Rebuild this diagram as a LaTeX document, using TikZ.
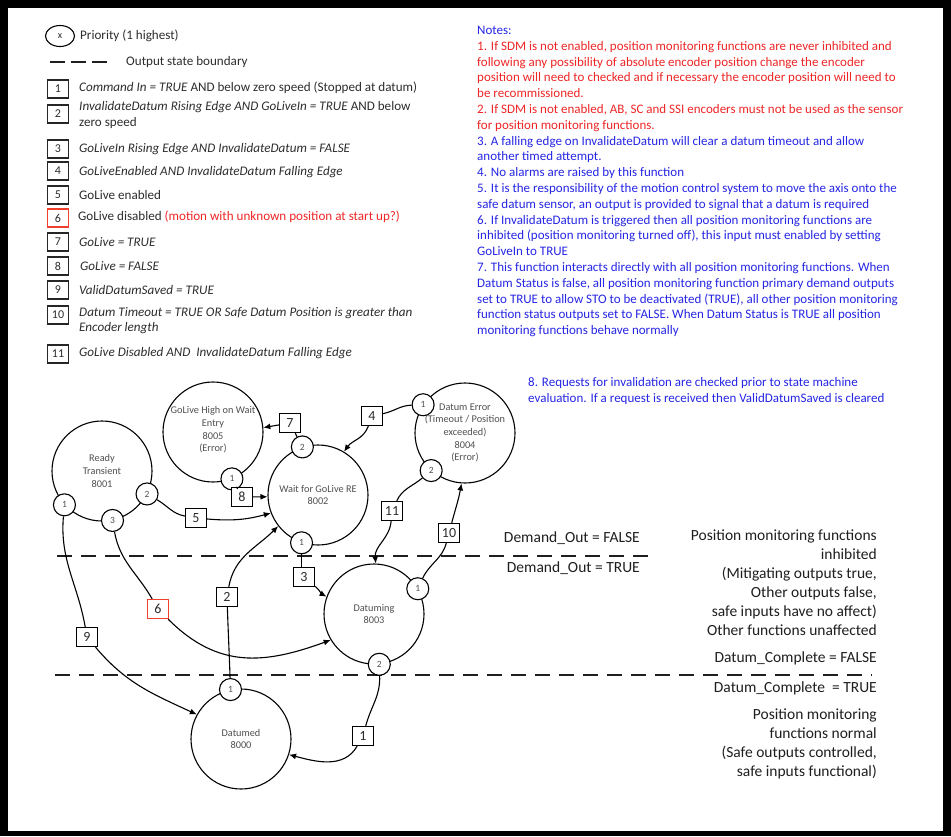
\documentclass[tikz,border=0pt]{standalone}
\usepackage{fontspec}
\setmainfont{Carlito}
\usetikzlibrary{arrows.meta,shapes.geometric}
\definecolor{notered}{RGB}{238,38,38}
\definecolor{noteblue}{RGB}{38,38,228}
\definecolor{txt}{RGB}{45,45,45}
\definecolor{stxt}{RGB}{80,80,80}
\definecolor{boxred}{RGB}{238,64,44}
\begin{document}
\begin{tikzpicture}[x=1pt,y=1pt,
  state/.style={circle,draw=black,line width=1.1pt,minimum size=100pt,inner sep=0pt},
  stext/.style={align=center,inner sep=0pt,text=stxt,font=\fontsize{10.3}{12.6}\selectfont},
  prio/.style={circle,draw=black,line width=1.1pt,fill=white,minimum size=22pt,inner sep=0pt,text=stxt,font=\fontsize{9.5}{10}\selectfont},
  cond/.style={rectangle,draw=black,line width=1.3pt,fill=white,minimum width=21pt,minimum height=19pt,inner sep=0pt,text=txt,font=\fontsize{14}{14}\selectfont},
  legbox/.style={rectangle,draw=black!85,line width=1.4pt,fill=white,minimum width=21pt,minimum height=18pt,inner sep=0pt,text=txt,font=\fontsize{12}{12}\selectfont},
  legtext/.style={anchor=west,align=left,inner sep=0pt,text=txt,font=\fontsize{13.1}{15.5}\selectfont},
  legit/.style={legtext,font=\fontsize{13.1}{15.5}\selectfont\itshape},
  conn/.style={draw=black,line width=1.1pt},
  arr/.style={-{Latex[length=7pt,width=6pt]}},
  boundary/.style={draw=black!88,line width=2pt,dash pattern=on 15pt off 9pt},
  sidetext/.style={align=right,anchor=east,inner sep=0pt,text=black!88,font=\fontsize{15.5}{19}\selectfont}]
% frame
\fill[black] (0,0) rectangle (951,-836);
\fill[white] (8,-8) rectangle (943,-831);
\useasboundingbox (0,0) rectangle (951,-836);

% ---------- legend ----------
\node[ellipse,draw=black,line width=1.1pt,minimum width=29pt,minimum height=21pt,inner sep=0pt,text=txt,font=\fontsize{10}{10}\selectfont] (legprio) at (60,-36) {x};
\node[legtext] (legpriot) at (80,-36) {Priority (1 highest)};
\coordinate (legda) at (50,-62);
\coordinate (legdb) at (110,-62);
\draw[draw=black!88,line width=2pt,dash pattern=on 15pt off 6pt] (legda) -- (legdb);
\node[legtext] (legdasht) at (126,-62) {Output state boundary};

\node[legbox] (lb1) at (58,-89) {1};
\node[legtext] (lt1) at (79,-88) {\textit{Command In = TRUE} AND below zero speed (Stopped at datum)};
\node[legbox] (lb2) at (58,-114) {2};
\node[legtext] (lt2) at (79,-115) {\textit{InvalidateDatum Rising Edge AND GoLiveIn = TRUE} AND below\\zero speed};
\node[legbox] (lb3) at (58,-149) {3};
\node[legit] (lt3) at (79,-149) {GoLiveIn Rising Edge AND InvalidateDatum = FALSE};
\node[legbox] (lb4) at (58,-171) {4};
\node[legit] (lt4) at (79,-172) {GoLiveEnabled AND InvalidateDatum Falling Edge};
\node[legbox] (lb5) at (58,-195) {5};
\node[legtext] (lt5) at (79,-195) {GoLive enabled};
\node[legbox,draw=boxred] (lb6) at (58,-218) {6};
\node[legtext] (lt6) at (78,-217) {GoLive disabled \textcolor{notered}{(motion with unknown position at start up?)}};
\node[legbox] (lb7) at (58,-242) {7};
\node[legit] (lt7) at (79,-242) {GoLive = TRUE};
\node[legbox] (lb8) at (58,-266) {8};
\node[legit] (lt8) at (80,-266) {GoLive = FALSE};
\node[legbox] (lb9) at (58,-290) {9};
\node[legit] (lt9) at (79,-290) {ValidDatumSaved = TRUE};
\node[legbox] (lb10) at (58,-315) {10};
\node[legit] (lt10) at (79,-320.5) {Datum Timeout = TRUE OR Safe Datum Position is greater than\\Encoder length};
\node[legbox] (lb11) at (58,-354) {11};
\node[legit] (lt11) at (79,-353) {GoLive Disabled AND\ \ InvalidateDatum Falling Edge};

% ---------- notes ----------
\node[anchor=north west,align=left,inner sep=0pt,font=\fontsize{13}{15.8}\selectfont] (notes) at (477,-26) {%
\textcolor{noteblue}{Notes:}\\
\textcolor{notered}{1. If SDM is not enabled, position monitoring functions are never inhibited and}\\
\textcolor{notered}{following any possibility of absolute encoder position change the encoder}\\
\textcolor{notered}{position will need to checked and if necessary the encoder position will need to}\\
\textcolor{notered}{be recommissioned.}\\
\textcolor{notered}{2. If SDM is not enabled, AB, SC and SSI encoders must not be used as the sensor}\\
\textcolor{notered}{for position monitoring functions.}\\
\textcolor{noteblue}{3. A falling edge on InvalidateDatum will clear a datum timeout and allow}\\
\textcolor{noteblue}{another timed attempt.}\\
\textcolor{noteblue}{4. No alarms are raised by this function}\\
\textcolor{noteblue}{5. It is the responsibility of the motion control system to move the axis onto the}\\
\textcolor{noteblue}{safe datum sensor, an output is provided to signal that a datum is required}\\
\textcolor{noteblue}{6. If InvalidateDatum is triggered then all position monitoring functions are}\\
\textcolor{noteblue}{inhibited (position monitoring turned off), this input must enabled by setting}\\
\textcolor{noteblue}{GoLiveIn to TRUE}\\
\textcolor{noteblue}{7. This function interacts directly with all position monitoring functions. When}\\
\textcolor{noteblue}{Datum Status is false, all position monitoring function primary demand outputs}\\
\textcolor{noteblue}{set to TRUE to allow STO to be deactivated (TRUE), all other position monitoring}\\
\textcolor{noteblue}{function status outputs set to FALSE. When Datum Status is TRUE all position}\\
\textcolor{noteblue}{monitoring functions behave normally}};
\node[anchor=west,align=left,inner sep=0pt,text=noteblue,font=\fontsize{13}{15.6}\selectfont] (note8) at (528,-391) {8. Requests for invalidation are checked prior to state machine\\evaluation. If a request is received then ValidDatumSaved is cleared};

% ---------- boundaries ----------
\coordinate (bua) at (57,-556);
\coordinate (bub) at (648,-556);
\coordinate (bla) at (55,-675);
\coordinate (blb) at (872,-675);
\draw[boundary] (bua) -- (bub);
\draw[boundary] (bla) -- (blb);

\node[sidetext] (dofalse) at (640,-538) {Demand\_Out = FALSE};
\node[sidetext] (dotrue) at (640,-568) {Demand\_Out = TRUE};
\node[sidetext] (inhib) at (877,-583) {Position monitoring functions\\inhibited\\(Mitigating outputs true,\\Other outputs false,\\safe inputs have no affect)\\Other functions unaffected};
\node[sidetext] (dcfalse) at (877,-658) {Datum\_Complete = FALSE};
\node[sidetext] (dctrue) at (877,-688) {Datum\_Complete\ \ = TRUE};
\node[sidetext] (normal) at (877,-743.5) {Position monitoring\\functions normal\\(Safe outputs controlled,\\safe inputs functional)};

% ---------- states ----------
\node[state] (s8001) at (102,-471) {};
\node[stext] (t8001) at (s8001) {Ready\\Transient\\8001};
\node[state] (s8005) at (213,-432) {};
\node[stext] (t8005) at (213,-430) {GoLive High on Wait\\Entry\\8005\\(Error)};
\node[state] (s8002) at (318,-495) {};
\node[stext] (t8002) at (s8002) {Wait for GoLive RE\\8002};
\node[state] (s8004) at (465,-433) {};
\node[stext] (t8004) at (s8004) {Datum Error\\(Timeout / Position\\exceeded)\\8004\\(Error)};
\node[state] (s8003) at (374,-614) {};
\node[stext] (t8003) at (s8003) {Datuming\\8003};
\node[state] (s8000) at (241,-739) {};
\node[stext] (t8000) at (s8000) {Datumed\\8000};

% priority circles
\node[prio] (p01a) at (s8001.222) {1};
\node[prio] (p01b) at (s8001.333) {2};
\node[prio] (p01c) at (s8001.282) {3};
\node[prio] (p05a) at (s8005.292) {1};
\node[prio] (p02a) at (s8002.251) {1};
\node[prio] (p02b) at (s8002.108) {2};
\node[prio] (p04a) at (s8004.146) {1};
\node[prio] (p04b) at (s8004.228) {2};
\node[prio] (p03a) at (s8003.30) {1};
\node[prio] (p03b) at (s8003.276) {2};
\node[prio] (p00a) at (s8000.102) {1};

% condition boxes
\node[cond] (b7) at (290,-423) {7};
\node[cond] (b8) at (242,-497) {8};
\node[cond] (b5) at (196,-518) {5};
\node[cond] (b4) at (372,-416) {4};
\node[cond] (b11) at (392,-511) {11};
\node[cond] (b10) at (449,-533) {10};
\node[cond] (b3) at (304,-577) {3};
\node[cond] (b2) at (227,-597) {2};
\node[cond,draw=boxred] (b6) at (158,-609) {6};
\node[cond] (b9) at (87,-637) {9};
\node[cond] (b1) at (363,-736) {1};

% ---------- transitions ----------
\draw[conn] (p02b) -- (b7);
\draw[conn,arr] (b7) -- (s8005.5);
\draw[conn] (p05a) -- (b8);
\draw[conn,arr] (b8) -- (s8002.182);
\draw[conn] (p01b) to[out=-30,in=170] (b5);
\draw[conn,arr] (b5) to[out=-5,in=195] (s8002.201);
\draw[conn] (p04a) to[out=182,in=12] (b4);
\draw[conn,arr] (b4) to[out=250,in=55] (s8002.59);
\draw[conn] (p04b) to[out=220,in=65] (b11);
\draw[conn,arr] (b11) to[out=265,in=95] (s8003.88);
\draw[conn] (p03a) to[out=65,in=255] (b10);
\draw[conn,arr] (b10) to[out=75,in=260] (s8004.266);
\draw[conn] (p02a) -- (p02a |- b3.north);
\draw[conn,arr] (b3) to[out=-40,in=150] (s8003.160);
\draw[conn] (p00a) to[out=92,in=-88] (b2);
\draw[conn,arr] (b2) to[out=80,in=225] (s8002.218);
\draw[conn] (p01c) to[out=-80,in=120] (b6);
\draw[conn,arr] (b6) to[out=-45,in=200,looseness=1.1] (s8003.211);
\draw[conn] (p01a) to[out=-95,in=100] (b9);
\draw[conn,arr] (b9) to[out=-50,in=155] (s8000.151);
\draw[conn] (p03b) to[out=-88,in=75] (b1);
\draw[conn,arr] (b1) to[out=240,in=-15] (s8000.342);
\end{tikzpicture}
\end{document}
